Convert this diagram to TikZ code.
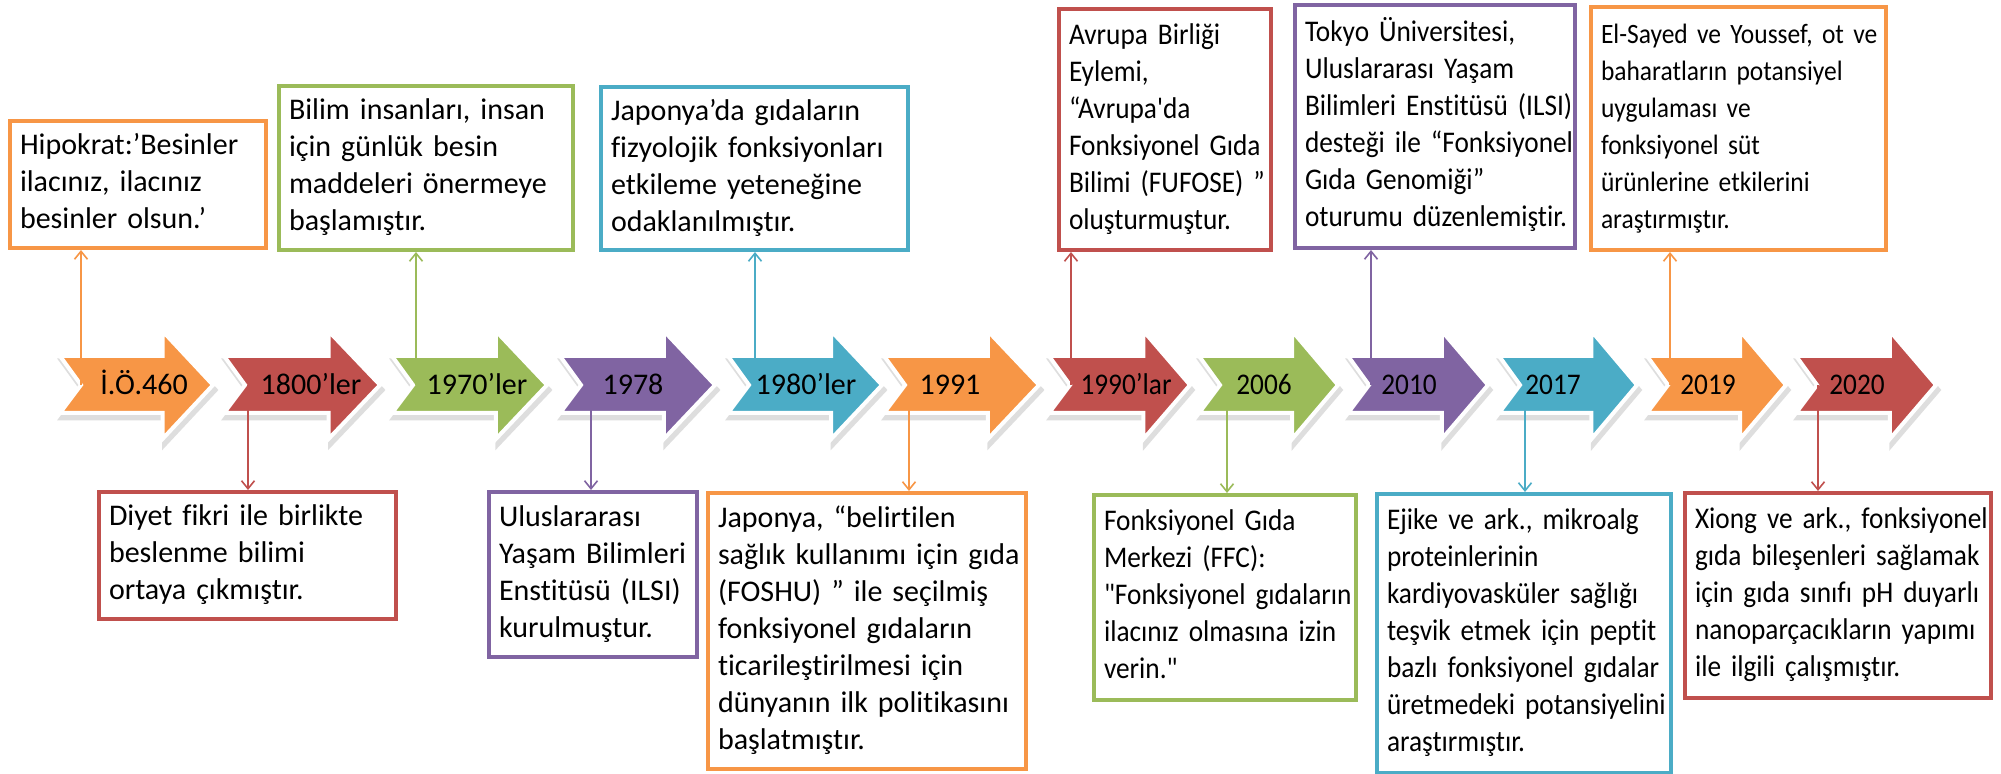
\documentclass[tikz,border=0pt]{standalone}
\usepackage{fontspec}
\setmainfont{Carlito}[Ligatures={TeXOff,CommonOff}]
\newfontfamily\condfont{Carlito}[FakeStretch=0.91, Ligatures={TeXOff,CommonOff}]
\usetikzlibrary{arrows.meta}
\definecolor{orn}{HTML}{F79646}
\definecolor{rd}{HTML}{C0504D}
\definecolor{grn}{HTML}{9BBB59}
\definecolor{pur}{HTML}{8064A2}
\definecolor{blu}{HTML}{4BACC6}
\newcommand{\boxlines}[1]{\noindent\begin{tabular}{@{}l@{}}#1\end{tabular}}

\begin{document}
\begin{tikzpicture}[x=0.5pt,y=-0.5pt,
    every node/.style={font=\fontsize{15}{18.5}\selectfont},
    normtext/.style={},
    condtext/.style={font=\fontsize{15}{18.5}\condfont},
    info/.style={draw=#1, line width=2pt, align=left, inner xsep=5pt, inner ysep=0pt},
    conn/.style={draw=#1, line width=0.8pt, -{Straight Barb[length=4pt,width=6.5pt]}}]

  \useasboundingbox (0,0) rectangle (2001,774);

  \foreach \n/\L/\w/\tx/\lx/\c/\s/\t in {a1/60/153/144/81/orn/normtext/İ.Ö.460,
      a2/224/156/311/248/rd/normtext/1800’ler, a3/392/155/477/416/grn/normtext/1970’ler,
      a4/560/155/633/591/pur/normtext/1978, a5/728/154/806/755/blu/normtext/1980’ler,
      a6/884/155/950/909/orn/normtext/1991, a7/1049/141/1126/1071/rd/condtext/1990’lar,
      a8/1199/139/1264/1227/grn/condtext/2006, a9/1348/140/1409/1371/pur/condtext/2010,
      a10/1499/138/1553/1525/blu/condtext/2017, a11/1647/139/1708/1670/orn/condtext/2019,
      a12/1796/140/1857/1818/rd/condtext/2020} {
    \pgfmathsetmacro\hb{\L+0.67*\w}
    \filldraw[black!13, line width=2.5pt, shift={(2,5)}] (\L,356) -- (\hb,356) -- (\hb,331) -- (\L+\w,385)
      -- (\hb,439) -- (\hb,413) -- (\L,413) -- (\L+21,385) -- cycle;
    \draw[white, line width=2pt, fill=\c] (\L,356) -- (\hb,356) -- (\hb,331) -- (\L+\w,385)
      -- (\hb,439) -- (\hb,413) -- (\L,413) -- (\L+21,385) -- cycle;
    \node[\s, anchor=base] (\n) at (\tx,395) {\t};
    \coordinate (s\n) at (\lx,385);
  }

  \node[info=orn, text width=118pt, minimum height=63.5pt] (t1) at (138,184.5)
    {\boxlines{Hipokrat:’Besinler\\ilacınız, ilacınız\\besinler olsun.’}};
  \node[info=grn, text width=137pt, minimum height=82pt] (t2) at (426,168)
    {\boxlines{Bilim insanları, insan\\için günlük besin\\maddeleri önermeye\\başlamıştır.}};
  \node[info=blu, text width=143.5pt, minimum height=81.5pt] (t3) at (754.5,168.5)
    {\boxlines{Japonya’da gıdaların\\fizyolojik fonksiyonları\\etkileme yeteneğine\\odaklanılmıştır.}};
  \node[info=rd, condtext, text width=96pt, minimum height=120.5pt] (t4) at (1165,129.5)
    {\boxlines{Avrupa Birliği\\Eylemi,\\“Avrupa'da\\Fonksiyonel Gıda\\Bilimi (FUFOSE) ”\\oluşturmuştur.}};
  \node[info=pur, condtext, text width=130pt, minimum height=121.5pt] (t5) at (1435,126.5)
    {\boxlines{Tokyo Üniversitesi,\\Uluslararası Yaşam\\Bilimleri Enstitüsü (ILSI)\\desteği ile “Fonksiyonel\\Gıda Genomiği”\\oturumu düzenlemiştir.}};
  \node[info=orn, font=\fontsize{14}{18.5}\condfont, text width=137.5pt, minimum height=121.5pt] (t6) at (1738.5,128.5)
    {\boxlines{El-Sayed ve Youssef, ot ve\\baharatların potansiyel\\uygulaması ve\\fonksiyonel süt\\ürünlerine etkilerini\\araştırmıştır.}};

  \node[info=rd, text width=138.5pt, minimum height=63.5pt] (b1) at (247.5,555.5)
    {\boxlines{Diyet fikri ile birlikte\\beslenme bilimi\\ortaya çıkmıştır.}};
  \node[info=pur, text width=94pt, minimum height=82.5pt] (b2) at (593,574.5)
    {\boxlines{Uluslararası\\Yaşam Bilimleri\\Enstitüsü (ILSI)\\kurulmuştur.}};
  \node[info=orn, text width=149pt, minimum height=138pt] (b3) at (867,631)
    {\boxlines{Japonya, “belirtilen\\sağlık kullanımı için gıda\\(FOSHU) ” ile seçilmiş\\fonksiyonel gıdaların\\ticarileştirilmesi için\\dünyanın ilk politikasını\\başlatmıştır.}};
  \node[info=grn, condtext, text width=121pt, minimum height=102.5pt] (b4) at (1225,597.5)
    {\boxlines{Fonksiyonel Gıda\\Merkezi (FFC):\\"Fonksiyonel gıdaların\\ilacınız olmasına izin\\verin."}};
  \node[info=blu, condtext, text width=137pt, minimum height=139.5pt] (b5) at (1524,633.5)
    {\boxlines{Ejike ve ark., mikroalg\\proteinlerinin\\kardiyovasküler sağlığı\\teşvik etmek için peptit\\bazlı fonksiyonel gıdalar\\üretmedeki potansiyelini\\araştırmıştır.}};
  \node[info=rd, condtext, text width=143pt, minimum height=102.5pt] (b6) at (1838,595.5)
    {\boxlines{Xiong ve ark., fonksiyonel\\gıda bileşenleri sağlamak\\için gıda sınıfı pH duyarlı\\nanoparçacıkların yapımı\\ile ilgili çalışmıştır.}};

  \foreach \a/\b/\c in {a1/t1/orn, a3/t2/grn, a5/t3/blu, a7/t4/rd, a9/t5/pur, a11/t6/orn}
    \draw[conn=\c] (s\a) -- (s\a |- \b.south);
  \foreach \a/\b/\c in {a2/b1/rd, a4/b2/pur, a6/b3/orn, a8/b4/grn, a10/b5/blu, a12/b6/rd}
    \draw[conn=\c] (s\a) -- (s\a |- \b.north);
\end{tikzpicture}
\end{document}
